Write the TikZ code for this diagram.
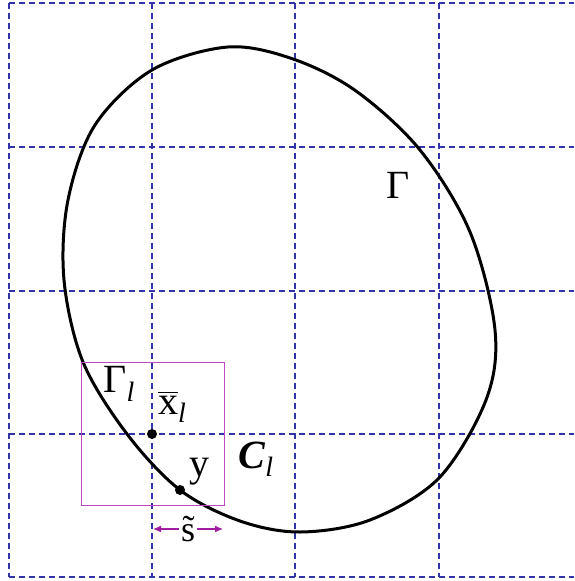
\documentclass[tikz,border=0pt]{standalone}
\usepackage{fontspec}
\setmainfont{Liberation Serif}
\newfontfamily\figfont{Liberation Serif}
\usepackage{xcolor}
\usepackage{tikz}
\usetikzlibrary{arrows.meta}
\definecolor{gridblue}{RGB}{50,50,170}
\definecolor{boxmag}{RGB}{190,70,190}
\definecolor{arrpurp}{RGB}{160,30,160}
\tikzset{
  gridline/.style = {gridblue, line width=0.6pt, dash pattern=on 3pt off 2pt},
  bound/.style    = {black, line width=1.5pt},
  cell/.style     = {boxmag, line width=0.5pt},
  pt/.style       = {circle, fill=black, inner sep=0pt, minimum size=5pt},
  lbl/.style      = {inner sep=1pt, font=\figfont\fontsize{20}{24}\selectfont},
  sarr/.style     = {arrpurp, line width=0.6pt, -{Latex[length=4pt,width=3.5pt]}},
}
\newcommand{\sub}[1]{\raisebox{-0.45ex}{\fontsize{14}{16}\selectfont\itshape #1}}

\begin{document}
\begin{tikzpicture}[x=0.5pt,y=-0.5pt]
  \useasboundingbox (0,0) rectangle (574,581);
  % dashed grid
  \foreach \yy in {3,147,291,434,577}
    \draw[gridline] (9,\yy) -- (574,\yy);
  \foreach \xx in {9,152,295,439}
    \draw[gridline] (\xx,3) -- (\xx,577);

  % the boundary curve
  \draw[bound] plot[smooth cycle, tension=0.55] coordinates {
    (228,47) (293,59) (356,91) (420,150) (470,232) (495,330) (486,400)
    (439,478) (370,520) (300,532) (240,521) (180,490) (127,434)
    (83,362) (64,280) (68,200) (95,125) (152,70)};

  % local cell
  \draw[cell] (81,362) rectangle (224,505);

  \node[pt] (xbar) at (152,434) {};
  \node[pt] (ypt)  at (180,490) {};

  \node[lbl] (gamma)  at (398,185) {Γ};
  \node[lbl] (gammal) at (119,384) {Γ\sub{l}};
  \node[lbl] (xlab)   at (172,407) {$\overline{\mbox{x}}$\sub{l}};
  \node[lbl] (ylab)   at (199,472) {y};
  \node[lbl] (cl)     at (256,459) {{\bfseries\itshape C}\sub{l}};

  \coordinate (sl) at (153,529);
  \coordinate (sr) at (223,529);
  \node[lbl, font=\figfont\fontsize{18}{20}\selectfont] (slab) at (188,529) {\~s};
  \draw[sarr] (slab.west) -- (sl);
  \draw[sarr] (slab.east) -- (sr);
\end{tikzpicture}
\end{document}
